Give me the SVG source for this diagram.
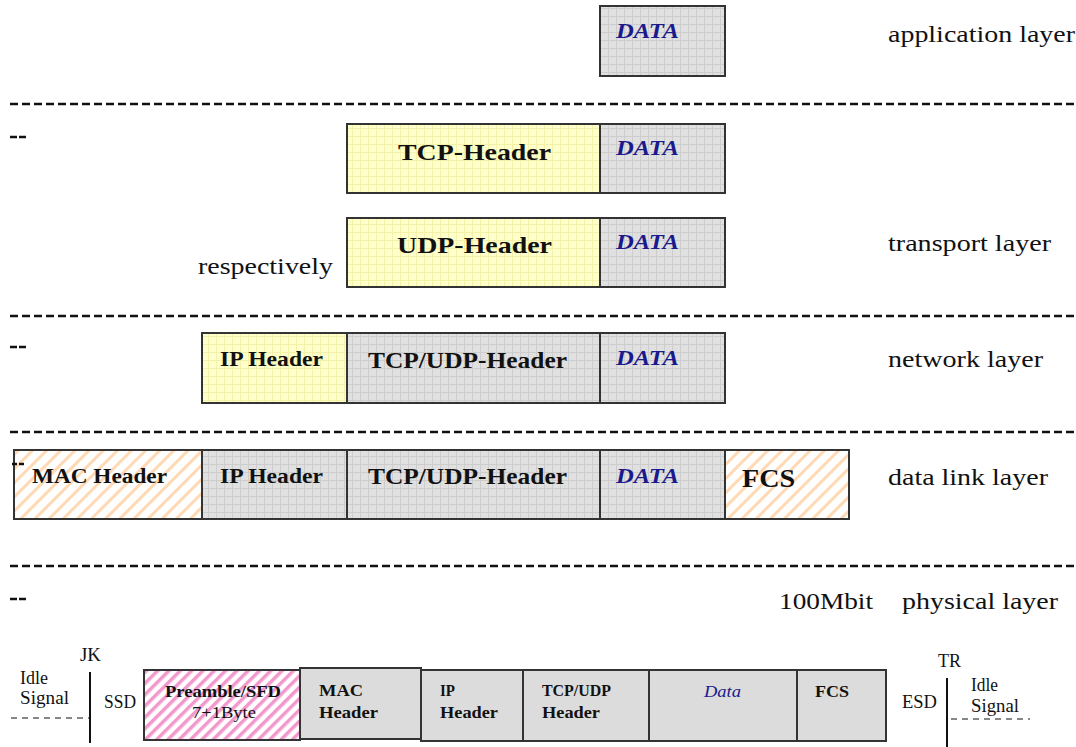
<svg xmlns="http://www.w3.org/2000/svg" width="1076" height="747" viewBox="0 0 1076 747">
<defs>
<pattern id="gridG" width="8" height="8" patternUnits="userSpaceOnUse">
<rect width="8" height="8" fill="#e0e0e0"/>
<path d="M0 0.5H8M0.5 0V8" stroke="#cdcdcd" stroke-width="1"/>
</pattern>
<pattern id="gridY" width="8" height="8" patternUnits="userSpaceOnUse">
<rect width="8" height="8" fill="#ffffcc"/>
<path d="M0 0.5H8M0.5 0V8" stroke="#f4f2a8" stroke-width="1"/>
</pattern>
<pattern id="hatchO" width="10" height="10" patternUnits="userSpaceOnUse" patternTransform="rotate(45)">
<rect width="10" height="10" fill="#ffffff"/>
<rect width="3" height="10" fill="#ffd9b3"/>
</pattern>
<pattern id="hatchP" width="8" height="8" patternUnits="userSpaceOnUse" patternTransform="rotate(45)">
<rect width="8" height="8" fill="#ffffff"/>
<rect width="3.5" height="8" fill="#f398cc"/>
</pattern>
</defs>
<style>
.box{stroke:#333;stroke-width:2}
.g{fill:url(#gridG)}
.y{fill:url(#gridY)}
.o{fill:url(#hatchO)}
.p{fill:url(#hatchP)}
.pg{fill:#dcdcdc}
.sep{stroke:#111;stroke-width:2.5;stroke-dasharray:8 4}
.dd{stroke:#111;stroke-width:2.5}
.hd{font-family:"Liberation Serif",serif;font-weight:bold;font-size:23px;fill:#111}
.hs{font-family:"Liberation Serif",serif;font-weight:bold;font-size:20px;fill:#111}
.dt{font-family:"Liberation Serif",serif;font-weight:bold;font-style:italic;font-size:20px;fill:#1a1a8c}
.lb{font-family:"Liberation Serif",serif;font-size:23px;fill:#111}
.ph{font-family:"Liberation Serif",serif;font-weight:bold;font-size:17px;fill:#111}
.pn{font-family:"Liberation Serif",serif;font-size:18px;fill:#111}
.pi{font-family:"Liberation Serif",serif;font-style:italic;font-size:17px;fill:#1a1a8c}
.ln{stroke:#111;stroke-width:2}
.dash{stroke:#111;stroke-width:1.2;stroke-dasharray:6 5}
</style>
<g id="separators">
<line class="sep" x1="10" y1="104" x2="1076" y2="104"/>
<line class="dd" x1="10" y1="137" x2="26" y2="137" stroke-dasharray="7 2"/>
<line class="sep" x1="10" y1="316" x2="1076" y2="316"/>
<line class="dd" x1="10" y1="347" x2="26" y2="347" stroke-dasharray="7 2"/>
<line class="sep" x1="10" y1="432" x2="1076" y2="432"/>
<line class="sep" x1="10" y1="566" x2="1076" y2="566"/>
<line class="dd" x1="10" y1="599" x2="26" y2="599" stroke-dasharray="7 2"/>
</g>
<g id="labels">
<text class="lb" x="888" y="42" textLength="187" lengthAdjust="spacingAndGlyphs">application layer</text>
<text class="lb" x="888" y="251" textLength="163" lengthAdjust="spacingAndGlyphs">transport layer</text>
<text class="lb" x="888" y="367" textLength="155" lengthAdjust="spacingAndGlyphs">network layer</text>
<text class="lb" x="888" y="485" textLength="160" lengthAdjust="spacingAndGlyphs">data link layer</text>
<text class="lb" x="198" y="274" textLength="135" lengthAdjust="spacingAndGlyphs">respectively</text>
<text class="lb" x="779" y="609" textLength="94" lengthAdjust="spacingAndGlyphs">100Mbit</text>
<text class="lb" x="902" y="609" textLength="156" lengthAdjust="spacingAndGlyphs">physical layer</text>
</g>
<g id="app-data"><rect class="box g" x="600" y="6" width="125" height="70"/><text class="dt" x="616" y="38" textLength="63" lengthAdjust="spacingAndGlyphs">DATA</text></g>
<g id="tcp-header"><rect class="box y" x="347" y="124" width="253" height="69"/><text class="hd" x="398" y="160" textLength="153" lengthAdjust="spacingAndGlyphs">TCP-Header</text></g>
<g id="tcp-data"><rect class="box g" x="600" y="124" width="125" height="69"/><text class="dt" x="616" y="155" textLength="63" lengthAdjust="spacingAndGlyphs">DATA</text></g>
<g id="udp-header"><rect class="box y" x="347" y="218" width="253" height="69"/><text class="hd" x="397" y="253" textLength="155" lengthAdjust="spacingAndGlyphs">UDP-Header</text></g>
<g id="udp-data"><rect class="box g" x="600" y="218" width="125" height="69"/><text class="dt" x="616" y="249" textLength="63" lengthAdjust="spacingAndGlyphs">DATA</text></g>
<g id="net-ip"><rect class="box y" x="202" y="333" width="145" height="70"/><text class="hs" x="220" y="366" textLength="103" lengthAdjust="spacingAndGlyphs">IP Header</text></g>
<g id="net-tcpudp"><rect class="box g" x="347" y="333" width="253" height="70"/><text class="hd" x="368" y="368" textLength="199" lengthAdjust="spacingAndGlyphs">TCP/UDP-Header</text></g>
<g id="net-data"><rect class="box g" x="600" y="333" width="125" height="70"/><text class="dt" x="616" y="365" textLength="63" lengthAdjust="spacingAndGlyphs">DATA</text></g>
<g id="dl-mac"><rect class="box o" x="14" y="450" width="188" height="69"/><text class="hs" x="32" y="483" textLength="135" lengthAdjust="spacingAndGlyphs">MAC Header</text></g>
<line class="dd" x1="12" y1="464" x2="26" y2="464" stroke-dasharray="5 2"/>
<g id="dl-ip"><rect class="box g" x="202" y="450" width="145" height="69"/><text class="hs" x="220" y="483" textLength="103" lengthAdjust="spacingAndGlyphs">IP Header</text></g>
<g id="dl-tcpudp"><rect class="box g" x="347" y="450" width="253" height="69"/><text class="hd" x="368" y="484" textLength="199" lengthAdjust="spacingAndGlyphs">TCP/UDP-Header</text></g>
<g id="dl-data"><rect class="box g" x="600" y="450" width="125" height="69"/><text class="dt" x="616" y="483" textLength="63" lengthAdjust="spacingAndGlyphs">DATA</text></g>
<g id="dl-fcs"><rect class="box o" x="725" y="450" width="124" height="69"/><text class="hd" x="742" y="487" style="font-size:25px" textLength="53" lengthAdjust="spacingAndGlyphs">FCS</text></g>
<g id="phys-left">
<text class="pn" x="80" y="661" textLength="21" lengthAdjust="spacingAndGlyphs">JK</text>
<text class="pn" x="20" y="684" textLength="28" lengthAdjust="spacingAndGlyphs">Idle</text>
<text class="pn" x="20" y="704" textLength="49" lengthAdjust="spacingAndGlyphs">Signal</text>
<line class="dash" x1="11" y1="718" x2="90" y2="718"/>
<line class="ln" x1="90" y1="672" x2="90" y2="743"/>
<text class="pn" x="104" y="708" textLength="32" lengthAdjust="spacingAndGlyphs">SSD</text>
</g>
<g id="phys-preamble"><rect class="box p" x="144" y="670" width="156" height="70"/><text class="ph" x="165" y="697" textLength="116" lengthAdjust="spacingAndGlyphs">Preamble/SFD</text><text class="pn" x="192" y="718" style="font-size:17px" textLength="64" lengthAdjust="spacingAndGlyphs">7+1Byte</text></g>
<g id="phys-mac"><rect class="box pg" x="300" y="668" width="121" height="71"/><text class="ph" x="319" y="696" textLength="44" lengthAdjust="spacingAndGlyphs">MAC</text><text class="ph" x="319" y="718" textLength="59" lengthAdjust="spacingAndGlyphs">Header</text></g>
<g id="phys-ip"><rect class="box pg" x="421" y="670" width="102" height="71"/><text class="ph" x="440" y="696" textLength="15" lengthAdjust="spacingAndGlyphs">IP</text><text class="ph" x="440" y="718" textLength="58" lengthAdjust="spacingAndGlyphs">Header</text></g>
<g id="phys-tcpudp"><rect class="box pg" x="523" y="670" width="126" height="71"/><text class="ph" x="542" y="696" textLength="69" lengthAdjust="spacingAndGlyphs">TCP/UDP</text><text class="ph" x="542" y="718" textLength="58" lengthAdjust="spacingAndGlyphs">Header</text></g>
<g id="phys-data"><rect class="box pg" x="649" y="670" width="148" height="71"/><text class="pi" x="704" y="697" textLength="37" lengthAdjust="spacingAndGlyphs">Data</text></g>
<g id="phys-fcs"><rect class="box pg" x="797" y="670" width="89" height="71"/><text class="ph" x="815" y="697" textLength="34" lengthAdjust="spacingAndGlyphs">FCS</text></g>
<g id="phys-right">
<text class="pn" x="902" y="708" textLength="35" lengthAdjust="spacingAndGlyphs">ESD</text>
<text class="pn" x="938" y="667" textLength="23" lengthAdjust="spacingAndGlyphs">TR</text>
<line class="ln" x1="947" y1="678" x2="947" y2="747"/>
<text class="pn" x="971" y="691" textLength="27" lengthAdjust="spacingAndGlyphs">Idle</text>
<text class="pn" x="971" y="712" textLength="48" lengthAdjust="spacingAndGlyphs">Signal</text>
<line class="dash" x1="951" y1="719" x2="1030" y2="719"/>
</g>
</svg>
